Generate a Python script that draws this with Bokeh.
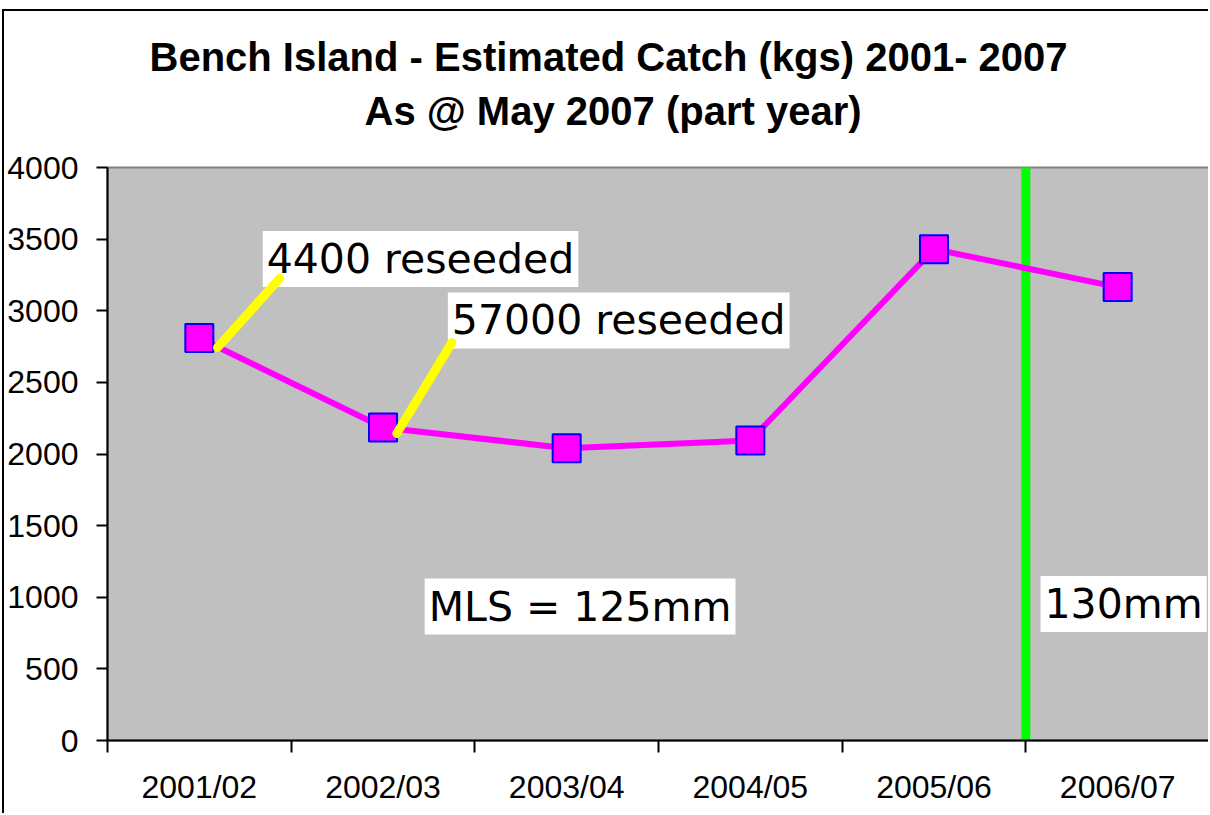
from bokeh.plotting import figure
from bokeh.models import Range1d, FixedTicker, Label, Title
from bokeh.embed import file_html
from bokeh.resources import INLINE

# ---- data ----
seasons = ["2001/02", "2002/03", "2003/04", "2004/05", "2005/06", "2006/07"]
catch_kg = [2810, 2185, 2040, 2095, 3430, 3165]
y_ticks = [0, 500, 1000, 1500, 2000, 2500, 3000, 3500, 4000]

# MLS change boundary (between 2005/06 and 2006/07)
mls_change_at = 5

# annotation texts and their anchor (data) positions
note_text = ["4400 reseeded", "57000 reseeded", "MLS = 125mm", "130mm"]
note_x = [0.845, 1.853, 1.727, 5.08]
note_y = [3361, 2932, 935, 953]

# yellow pointer lines (data coords)
ptr_x0 = [0.599, 1.575]
ptr_y0 = [2743, 2143]
ptr_x1 = [0.937, 1.875]
ptr_y1 = [3225, 2778]

xs = [i + 0.5 for i in range(len(seasons))]

p = figure(width=1206, height=804, output_backend="svg", toolbar_location=None,
           x_range=Range1d(0, len(seasons)), y_range=Range1d(0, 4000),
           min_border_left=100, min_border_right=1, min_border_top=156,
           min_border_bottom=75, title=None)

p.background_fill_color = "#C0C0C0"
p.border_fill_color = "white"
p.outline_line_color = "#808080"
p.outline_line_width = 2
p.grid.visible = False

# titles (spacer first = closest to the plot area)
spacer = Title(text=" ", text_font_size="1px", standoff=32)
t2 = Title(text="As @ May 2007 (part year)", align="left",
           text_font="Liberation Sans", text_font_size="40px",
           text_font_style="bold", text_color="black", offset=257, standoff=0)
t1 = Title(text="Bench Island - Estimated Catch (kgs) 2001- 2007", align="left",
           text_font="Liberation Sans", text_font_size="40px",
           text_font_style="bold", text_color="black", offset=42, standoff=16)
p.add_layout(spacer, "above")
p.add_layout(t2, "above")
p.add_layout(t1, "above")

# x axis
xa = p.xaxis[0]
xa.ticker = FixedTicker(ticks=xs, minor_ticks=list(range(len(seasons) + 1)))
xa.major_label_overrides = {x: s for x, s in zip(xs, seasons)}
xa.major_tick_line_color = None
xa.minor_tick_in = 0
xa.minor_tick_out = 12
xa.minor_tick_line_color = "black"
xa.minor_tick_line_width = 2
xa.axis_line_color = "black"
xa.axis_line_width = 2
xa.major_label_text_font = "Liberation Sans"
xa.major_label_text_font_size = "32px"
xa.major_label_text_color = "black"
xa.major_label_standoff = 16

# y axis
ya = p.yaxis[0]
ya.ticker = FixedTicker(ticks=y_ticks)
ya.minor_tick_line_color = None
ya.major_tick_in = 0
ya.major_tick_out = 11
ya.major_tick_line_width = 2
ya.major_tick_line_color = "black"
ya.axis_line_color = "black"
ya.axis_line_width = 2
ya.major_label_text_font = "Liberation Sans"
ya.major_label_text_font_size = "32px"
ya.major_label_text_color = "black"
ya.major_label_standoff = 18

# text boxes (under the marks)
for t, x, y in zip(note_text, note_x, note_y):
    p.add_layout(Label(x=x, y=y, text=t, text_align="left",
                       text_baseline="middle", text_font="DejaVu Sans",
                       text_font_size="41px", text_color="black",
                       background_fill_color="white", padding=4,
                       level="underlay"))

# green MLS line
p.line([mls_change_at, mls_change_at], [0, 4000], line_color="#00FF00",
       line_width=9, line_cap="round")

# catch series
p.line(xs, catch_kg, line_color="#FF00FF", line_width=6)
p.scatter(xs, catch_kg, marker="square", size=28, fill_color="#FF00FF",
          line_color="#0000FF", line_width=2)

# yellow pointers
p.segment(ptr_x0, ptr_y0, ptr_x1, ptr_y1, line_color="#FFFF00",
          line_width=9, line_cap="round")

p.styles = {"margin-left": "2px", "margin-top": "9px",
            "border-left": "2px solid black", "border-top": "2px solid black"}

open("out.html", "w").write(file_html(p, INLINE))
